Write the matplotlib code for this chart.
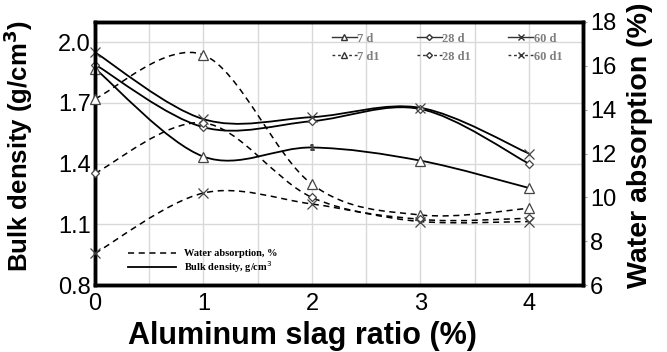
import numpy as np
import matplotlib
matplotlib.use("Agg")
import matplotlib.pyplot as plt
from matplotlib.path import Path
from matplotlib.patches import PathPatch
from matplotlib.lines import Line2D

plt.rcParams["font.family"] = ["Liberation Sans", "DejaVu Sans"]

# aluminium slag ratio (%)
slag = [0, 1, 2, 3, 4]

# bulk density (g/cm3), left axis
bd_7d = [1.87, 1.435, 1.48, 1.415, 1.28]
bd_28d = [1.89, 1.58, 1.61, 1.67, 1.40]
bd_60d = [1.95, 1.62, 1.63, 1.676, 1.45]

# water absorption (%), right axis
wa_7d = [14.5, 16.5, 10.6, 9.2, 9.5]
wa_28d = [11.1, 13.4, 10.0, 9.0, 9.05]
wa_60d = [7.45, 10.2, 9.7, 8.9, 8.9]


def smooth_path(xs, ys):
    """Excel-like smoothed line: cubic bezier through the points"""
    xs = np.asarray(xs, float)
    ys = np.asarray(ys, float)
    n = len(xs)
    verts = [(xs[0], ys[0])]
    codes = [Path.MOVETO]
    for i in range(n - 1):
        x0, y0 = (xs[i - 1], ys[i - 1]) if i > 0 else (xs[i], ys[i])
        x3, y3 = (xs[i + 2], ys[i + 2]) if i + 2 < n else (xs[i + 1], ys[i + 1])
        c1 = (xs[i] + (xs[i + 1] - x0) / 6, ys[i] + (ys[i + 1] - y0) / 6)
        c2 = (xs[i + 1] - (x3 - xs[i]) / 6, ys[i + 1] - (y3 - ys[i]) / 6)
        verts += [c1, c2, (xs[i + 1], ys[i + 1])]
        codes += [Path.CURVE4] * 3
    return Path(verts, codes)


fig = plt.figure(figsize=(6.67, 3.52), dpi=100)
ax = fig.add_axes([0.1424, 0.19, 0.732, 0.7475])
ax2 = ax.twinx()

ax.set_xlim(0, 4.5)
ax.set_ylim(0.8, 2.1)
ax2.set_ylim(6, 18)

ax.set_yticks([0.8, 1.1, 1.4, 1.7, 2.0])
ax.set_yticklabels(["0.8", "1.1", "1.4", "1.7", "2.0"])
ax.set_xticks([0, 1, 2, 3, 4])
ax.set_xticks(np.arange(0, 4.6, 0.5), minor=True)
ax2.set_yticks([6, 8, 10, 12, 14, 16, 18])

ax.grid(True, which="both", axis="x", color="#d9d9d9", lw=1)
ax.grid(True, which="major", axis="y", color="#d9d9d9", lw=1)
ax.set_axisbelow(True)

for a in (ax, ax2):
    for s in a.spines.values():
        s.set_linewidth(2.5)
        s.set_color("black")
ax.tick_params(axis="both", which="both", length=0)
ax.tick_params(axis="y", labelsize=17, pad=3)
ax.tick_params(axis="x", labelsize=17, pad=6)
ax2.tick_params(axis="y", labelsize=17, pad=2, length=3, width=0.8,
                color="#999999")

markers = {"7": ("^", 6.5), "28": ("D", 4), "60": ("x", 6.5)}

solid = [("7", bd_7d), ("28", bd_28d), ("60", bd_60d)]
dashed = [("7", wa_7d), ("28", wa_28d), ("60", wa_60d)]

for key, ys in solid:
    ax.add_patch(PathPatch(smooth_path(slag, ys), fill=False, lw=1.3,
                           ec="black", transform=ax.transData, clip_on=False))
    m, ms = markers[key]
    every = [0, 1, 3, 4] if key == "7" else None
    ax.plot(slag, ys, ls="none", marker=m, ms=ms, mfc="white", mec="#444444",
            mew=0.9, markevery=every, clip_on=False, zorder=5)
# odd marker drawn as a small "1" in the original at 2 %
ax.plot(slag[2:3], bd_7d[2:3], ls="none", marker="$1$", ms=4, color="#444444",
        zorder=5)

for key, ys in dashed:
    ax2.add_patch(PathPatch(smooth_path(slag, ys), fill=False, lw=1.1,
                            ec="black", ls=(0, (4, 3)),
                            transform=ax2.transData, clip_on=False))
    m, ms = markers[key]
    ax2.plot(slag, ys, ls="none", marker=m, ms=ms, mfc="white", mec="#444444",
             mew=0.9, clip_on=False, zorder=5)

ax.set_xlabel("Aluminum slag ratio (%)", fontsize=22, fontweight="bold")
ax.xaxis.set_label_coords(0.424, -0.135)
ax.set_ylabel("Bulk density (g/cm$^\\mathbf{3}$)", fontsize=18.5,
              fontweight="bold")
ax.yaxis.set_label_coords(-0.123, 0.53)
ax2.set_ylabel("Water absorption (%)", fontsize=20.5, fontweight="bold")
ax2.yaxis.set_label_coords(1.09, 0.53)

# series legend (top)
labels = ["7 d", "7 d1", "28 d", "28 d1", "60 d", "60 d1"]
handles = []
for lab in labels:
    key = lab.split()[0]
    m, ms = markers[key]
    ls = (0, (2, 2)) if lab.endswith("d1") else "-"
    handles.append(Line2D([], [], color="#333333", lw=1, ls=ls, marker=m,
                          ms=ms * 0.75, mfc="white", mec="#333333"))
leg1 = ax2.legend(handles, labels, ncol=3, loc="upper left",
                  bbox_to_anchor=(0.485, 0.96), frameon=False,
                  borderpad=0, borderaxespad=0,
                  handlelength=2.0, handletextpad=0.05, columnspacing=2.95,
                  labelspacing=0.5,
                  prop={"family": "Liberation Serif", "weight": "bold",
                        "size": 9})
for t in leg1.get_texts():
    t.set_color("#7f7f7f")
ax2.add_artist(leg1)

# line type legend (bottom left)
h2 = [Line2D([], [], color="black", lw=1.1, ls=(0, (4, 3))),
      Line2D([], [], color="black", lw=1.3)]
leg2 = ax2.legend(h2, ["Water absorption, %", "Bulk density, g/cm$^3$"],
                  loc="lower left", bbox_to_anchor=(0.067, 0.04),
                  frameon=False, borderpad=0, borderaxespad=0,
                  handlelength=4.6, handletextpad=0.8,
                  labelspacing=0.05,
                  prop={"family": "Liberation Serif", "weight": "bold",
                        "size": 7.5})

fig.savefig("out.png", dpi=100)
